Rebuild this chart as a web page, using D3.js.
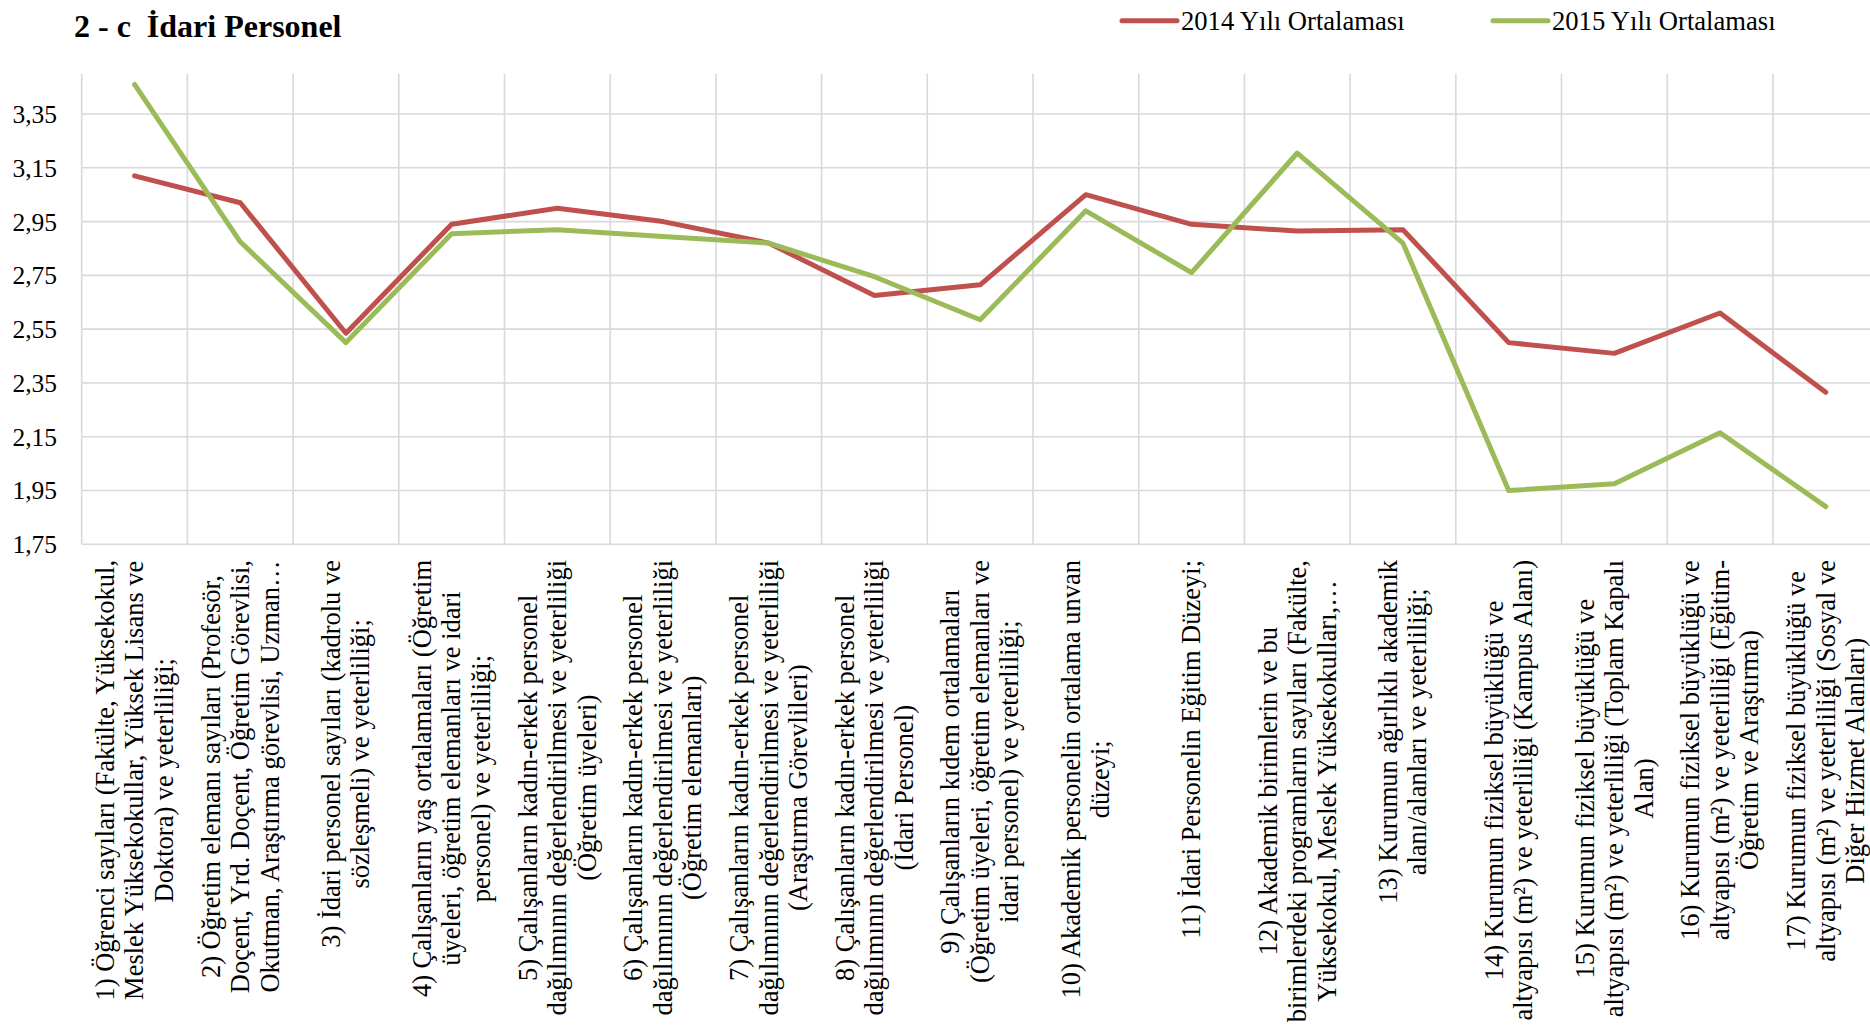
<!DOCTYPE html>
<html>
<head>
<meta charset="utf-8">
<script src="https://cdn.jsdelivr.net/npm/d3@7"></script>
<style>
  html, body { margin: 0; padding: 0; background: #fff; }
  svg { display: block; }
  text { font-family: "Liberation Serif", "Times New Roman", serif; fill: #000; }
</style>
</head>
<body>
<svg id="chart" width="1870" height="1029"></svg>
<script>
// ---- Data ----
const categories = [
  ["1) Öğrenci sayıları (Fakülte, Yüksekokul,", "Meslek Yüksekokullar, Yüksek Lisans ve", "Doktora) ve yeterliliği;"],
  ["2) Öğretim elemanı sayıları (Profesör,", "Doçent, Yrd. Doçent, Öğretim Görevlisi,", "Okutman, Araştırma görevlisi, Uzman…"],
  ["3) İdari personel sayıları (kadrolu ve", "sözleşmeli) ve yeterliliği;"],
  ["4) Çalışanların yaş ortalamaları (Öğretim", "üyeleri, öğretim elemanları ve idari", "personel) ve yeterliliği;"],
  ["5) Çalışanların kadın-erkek personel", "dağılımının değerlendirilmesi ve yeterliliği", "(Öğretim üyeleri)"],
  ["6) Çalışanların kadın-erkek personel", "dağılımının değerlendirilmesi ve yeterliliği", "(Öğretim elemanları)"],
  ["7) Çalışanların kadın-erkek personel", "dağılımının değerlendirilmesi ve yeterliliği", "(Araştırma Görevlileri)"],
  ["8) Çalışanların kadın-erkek personel", "dağılımının değerlendirilmesi ve yeterliliği", "(İdari Personel)"],
  ["9) Çalışanların kıdem ortalamaları", "(Öğretim üyeleri, öğretim elemanları ve", "idari personel) ve yeterliliği;"],
  ["10) Akademik personelin ortalama unvan", "düzeyi;"],
  ["11) İdari Personelin Eğitim Düzeyi;"],
  ["12) Akademik birimlerin ve bu", "birimlerdeki programların sayıları (Fakülte,", "Yüksekokul, Meslek Yüksekokulları,…"],
  ["13) Kurumun ağırlıklı akademik", "alanı/alanları ve yeterliliği;"],
  ["14) Kurumun fiziksel büyüklüğü ve", "altyapısı (m²) ve yeterliliği (Kampus Alanı)"],
  ["15) Kurumun fiziksel büyüklüğü ve", "altyapısı (m²) ve yeterliliği (Toplam Kapalı", "Alan)"],
  ["16) Kurumun fiziksel büyüklüğü ve", "altyapısı (m²) ve yeterliliği (Eğitim-", "Öğretim ve Araştırma)"],
  ["17) Kurumun fiziksel büyüklüğü ve", "altyapısı (m²) ve yeterliliği (Sosyal ve", "Diğer Hizmet Alanları)"]
];
const values2014 = [3.12, 3.02, 2.535, 2.94, 3.00, 2.95, 2.87, 2.675, 2.715, 3.05, 2.94, 2.915, 2.92, 2.50, 2.46, 2.61, 2.315];
const values2015 = [3.46, 2.875, 2.50, 2.905, 2.92, 2.895, 2.87, 2.745, 2.585, 2.99, 2.76, 3.205, 2.87, 1.95, 1.975, 2.165, 1.89];
const yTicks = [1.75, 1.95, 2.15, 2.35, 2.55, 2.75, 2.95, 3.15, 3.35];
const seriesNames = ["2014 Yılı Ortalaması", "2015 Yılı Ortalaması"];
const seriesColors = ["#C0504D", "#9BBB59"];
const titleText = "2 - c  İdari Personel";

// ---- Layout ----
const svg = d3.select("#chart");
const plotLeft = 81.7, plotRight = 81.7 + 17 * 105.7;
const plotTop = 73.7, plotBottom = 544.3;

const x = d3.scaleBand().domain(d3.range(categories.length)).range([plotLeft, plotRight]).padding(0);
const y = d3.scaleLinear().domain([1.75, 3.5]).range([plotBottom, plotTop]);

const grid = svg.append("g");
grid.selectAll("line.h").data(yTicks).join("line")
  .attr("x1", plotLeft).attr("x2", plotRight)
  .attr("y1", d => y(d)).attr("y2", d => y(d))
  .attr("stroke", "#D9D9D9").attr("stroke-width", 1.6);
const bounds = d3.range(categories.length + 1).map(i => i < categories.length ? x(i) : x(categories.length - 1) + x.bandwidth());
grid.selectAll("line.v").data(bounds).join("line")
  .attr("x1", d => d).attr("x2", d => d)
  .attr("y1", plotTop).attr("y2", plotBottom)
  .attr("stroke", "#D9D9D9").attr("stroke-width", 1.6);

// y axis labels
const yAxis = d3.axisLeft(y).tickValues(yTicks).tickSize(0).tickPadding(0)
  .tickFormat(d => d3.format(".2f")(d).replace(".", ","));
const yg = svg.append("g").attr("transform", "translate(57,0)").call(yAxis);
yg.select(".domain").remove();
yg.selectAll("text").attr("font-size", 25.5).attr("font-family", "Liberation Serif, Times New Roman, serif")
  .attr("fill", "#000").attr("dy", "0.33em");

// lines
const line = d3.line().x((d, i) => x(i) + x.bandwidth() / 2).y(d => y(d));
[values2014, values2015].forEach((vals, k) => {
  svg.append("path").datum(vals)
    .attr("d", line)
    .attr("fill", "none")
    .attr("stroke", seriesColors[k])
    .attr("stroke-width", 5)
    .attr("stroke-linejoin", "round")
    .attr("stroke-linecap", "round");
});

// category labels
const labelTop = 560, lineGap = 29.5, labelSize = 26.5;
categories.forEach((lines, i) => {
  const cx = x(i) + x.bandwidth() / 2;
  const g = svg.append("g");
  const texts = lines.map(t => g.append("text").attr("font-size", labelSize).attr("text-anchor", "middle").text(t));
  const maxW = d3.max(texts, t => t.node().getComputedTextLength());
  const n = lines.length;
  texts.forEach((t, j) => {
    const lx = cx + (j - (n - 1) / 2) * lineGap;
    t.attr("transform", `translate(${lx},${labelTop + maxW / 2}) rotate(-90)`)
     .attr("dy", "0.33em");
  });
});

// title
svg.append("text").attr("x", 74).attr("y", 37)
  .attr("font-size", 32).attr("font-weight", "bold")
  .style("white-space", "pre").attr("xml:space", "preserve").text(titleText);

// legend
const legendX = [1122, 1493];
seriesNames.forEach((name, k) => {
  svg.append("line")
    .attr("x1", legendX[k]).attr("x2", legendX[k] + 55)
    .attr("y1", 20.7).attr("y2", 20.7)
    .attr("stroke", seriesColors[k]).attr("stroke-width", 5).attr("stroke-linecap", "round");
  svg.append("text").attr("x", legendX[k] + 59).attr("y", 30)
    .attr("font-size", 26.6).text(name);
});
</script>
</body>
</html>
